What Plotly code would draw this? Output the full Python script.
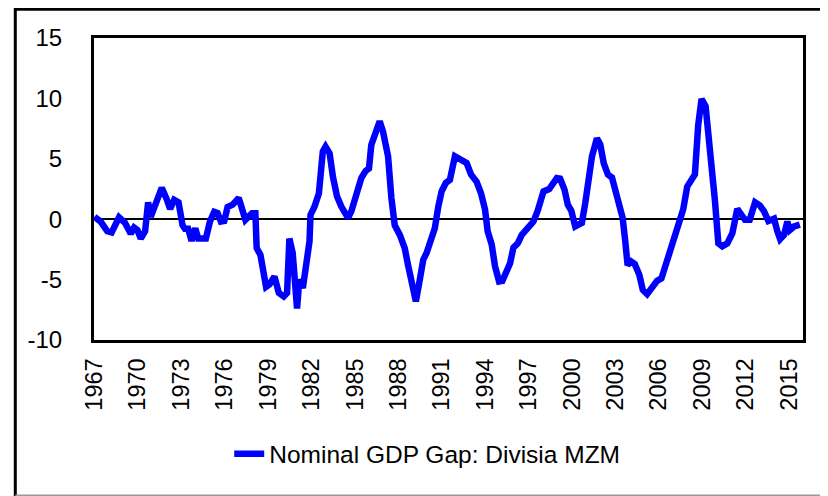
import plotly.graph_objects as go

# nominal GDP gap (percent), dates as decimal years
years = [
    1967.00, 1967.43, 1967.89, 1968.19, 1968.70, 1969.11, 1969.51, 1969.74, 1969.97, 1970.20,
    1970.50, 1970.71, 1970.89, 1971.17, 1971.65, 1971.98, 1972.23, 1972.51, 1972.81, 1973.09,
    1973.32, 1973.43, 1973.71, 1973.97, 1974.17, 1974.70, 1974.98, 1975.28, 1975.51, 1975.74,
    1975.97, 1976.20, 1976.55, 1976.97, 1977.43, 1977.89, 1978.12, 1978.21, 1978.47, 1978.86,
    1979.09, 1979.44, 1979.74, 1980.08, 1980.31, 1980.47, 1980.70, 1981.00, 1981.16, 1981.40,
    1981.63, 1981.86, 1981.93, 1982.21, 1982.51, 1982.78, 1982.97, 1983.25, 1983.48, 1983.76,
    1984.06, 1984.29, 1984.52, 1984.75, 1985.09, 1985.44, 1985.74, 1985.97, 1986.13, 1986.43,
    1986.71, 1986.94, 1987.29, 1987.52, 1987.75, 1988.10, 1988.44, 1988.67, 1988.91, 1989.21,
    1989.44, 1989.72, 1989.95, 1990.29, 1990.52, 1990.76, 1990.99, 1991.28, 1991.56, 1991.91,
    1992.25, 1992.72, 1993.02, 1993.41, 1993.71, 1993.99, 1994.17, 1994.45, 1994.68, 1994.96,
    1995.19, 1995.49, 1995.72, 1995.95, 1996.25, 1996.53, 1996.76, 1997.11, 1997.33, 1997.63,
    1998.03, 1998.42, 1998.72, 1998.95, 1999.18, 1999.48, 1999.71, 1999.95, 2000.22, 2000.45,
    2000.68, 2000.91, 2001.19, 2001.38, 2001.72, 2001.95, 2002.19, 2002.48, 2002.76, 2002.99,
    2003.22, 2003.50, 2003.68, 2003.84, 2004.08, 2004.33, 2004.65, 2004.89, 2005.19, 2005.53,
    2005.88, 2006.18, 2006.46, 2006.80, 2007.15, 2007.45, 2007.68, 2007.96, 2008.26, 2008.49,
    2008.72, 2008.95, 2009.23, 2009.46, 2009.69, 2009.87, 2010.11, 2010.38, 2010.73, 2011.08,
    2011.42, 2011.65, 2011.95, 2012.28, 2012.65, 2012.97, 2013.27, 2013.57, 2013.96, 2014.19,
    2014.38, 2014.65, 2014.88, 2015.05, 2015.35, 2015.74,
]
gap = [
    0.2, -0.2, -1.0, -1.1, 0.15, -0.3, -1.2, -0.7, -0.9, -1.6,
    -1.0, 1.4, 0.2, 1.2, 2.6, 1.7, 0.85, 1.6, 1.4, -0.5,
    -0.9, -0.6, -1.8, -0.75, -1.6, -1.6, -0.2, 0.6, 0.5, -0.2,
    -0.15, 1.0, 1.2, 1.75, -0.05, 0.5, 0.5, -2.4, -2.95, -5.6,
    -5.4, -4.75, -6.1, -6.4, -6.1, -1.6, -2.8, -7.4, -5.0, -5.7,
    -4.05, -1.85, 0.35, 1.05, 2.15, 5.6, 6.0, 5.45, 3.5, 1.9,
    1.05, 0.65, 0.1, 0.65, 2.0, 3.4, 4.0, 4.2, 6.15, 7.25,
    8.1, 7.25, 5.2, 1.75, -0.5, -1.3, -2.4, -3.8, -5.15, -6.8,
    -5.3, -3.35, -2.8, -1.7, -0.75, 1.05, 2.3, 3.0, 3.25, 5.2,
    5.0, 4.65, 3.7, 3.1, 2.15, 0.8, -1.0, -2.1, -3.9, -5.15,
    -5.1, -4.2, -3.65, -2.35, -2.0, -1.3, -1.0, -0.4, -0.2, 0.7,
    2.3, 2.5, 3.1, 3.4, 3.35, 2.45, 1.2, 0.7, -0.6, -0.45,
    -0.3, 1.3, 3.25, 5.2, 6.7, 6.2, 4.65, 3.7, 3.45, 2.35,
    1.2, 0.1, -1.85, -3.8, -3.5, -3.7, -4.6, -5.85, -6.2, -5.6,
    -5.1, -4.9, -3.9, -2.7, -1.45, -0.05, 0.8, 2.7, 3.4, 3.7,
    7.8, 9.95, 9.35, 6.7, 4.2, 1.6, -2.0, -2.25, -2.0, -1.15,
    0.85, 0.35, -0.05, -0.05, 1.4, 1.15, 0.65, -0.15, 0.05, -1.0,
    -1.65, -1.3, -0.2, -0.9, -0.6, -0.45,
]
tick_years = list(range(1967, 2016, 3))
y_ticks = [-10, -5, 0, 5, 10, 15]
y_labels = ["-10", "-5", "0", "5", "10", "15"]

font = "Liberation Sans"

fig = go.Figure()
fig.add_trace(go.Scatter(
    x=years, y=gap, mode="lines",
    name="Nominal GDP Gap: Divisia MZM",
    line=dict(color="#0000ff", width=6.5),
))

# outer chart frame (top / left black, bottom grey)
fig.add_shape(type="line", xref="paper", yref="paper", x0=-0.111, x1=1.1, y0=1.095, y1=1.095,
              line=dict(color="black", width=3))
fig.add_shape(type="line", xref="paper", yref="paper", x0=-0.111, x1=-0.111, y0=-0.53, y1=1.1,
              line=dict(color="black", width=3))
fig.add_shape(type="line", xref="paper", yref="paper", x0=-0.111, x1=1.1, y0=-0.514, y1=-0.514,
              line=dict(color="#999999", width=1.5))

# page body has an 8px default margin, so the figure is 8px smaller
fig.update_layout(
    width=820, height=488,
    margin=dict(l=86, r=25, t=30, b=156),
    paper_bgcolor="white", plot_bgcolor="white",
    font=dict(family=font, color="black"),
    showlegend=True,
    legend=dict(orientation="h", x=0.47, xanchor="center", y=-0.377, yanchor="middle",
                font=dict(size=24.5, family=font), bgcolor="rgba(0,0,0,0)"),
    xaxis=dict(
        range=[1966.97, 2015.96], tickmode="array", tickvals=tick_years,
        ticktext=[str(t) for t in tick_years], tickangle=-90,
        tickfont=dict(size=23.5), ticks="outside", ticklen=0, ticklabelstandoff=6,
        showgrid=False, zeroline=False,
        showline=True, linecolor="black", linewidth=3, mirror=True,
    ),
    yaxis=dict(
        range=[-10, 15], tickmode="array", tickvals=y_ticks, ticktext=y_labels,
        tickfont=dict(size=24), ticks="outside", ticklen=0, ticklabelstandoff=24,
        showgrid=False, zeroline=True, zerolinecolor="black", zerolinewidth=1.5,
        showline=True, linecolor="black", linewidth=3, mirror=True,
    ),
)

fig.write_html("out.html")
